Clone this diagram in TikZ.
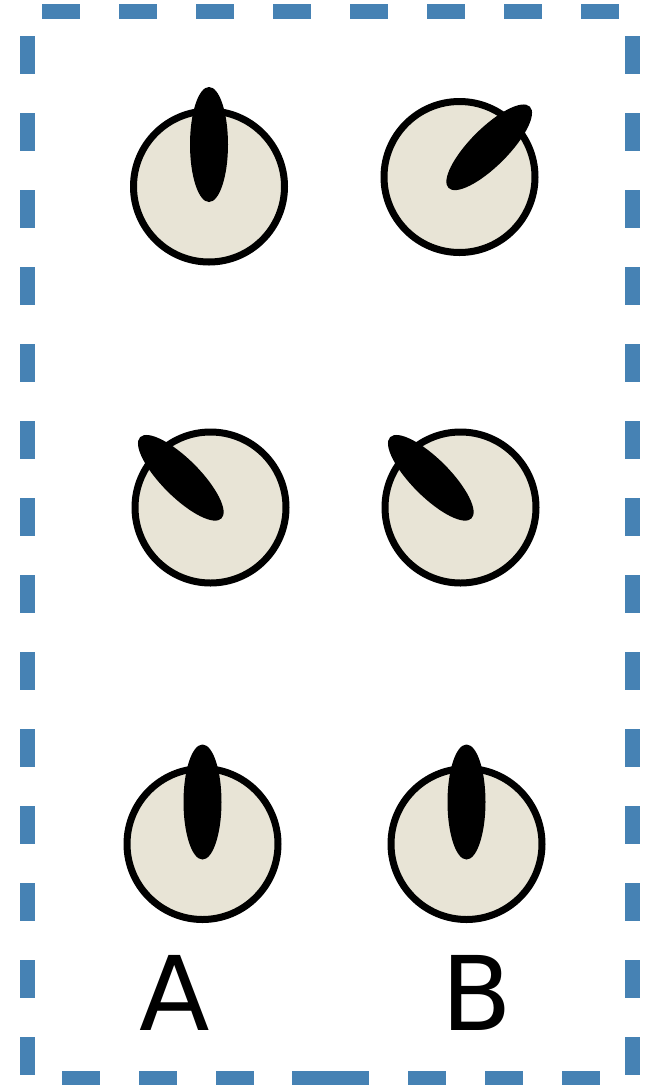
\documentclass[tikz,border=0pt]{standalone}
\usepackage{fontspec}
\newfontfamily\labelfont{DejaVu Sans}
\definecolor{frameblue}{RGB}{70,130,180}
\definecolor{knobfill}{RGB}{232,228,214}
\begin{document}
\begin{tikzpicture}[x=1pt,y=-1pt,
  frame/.style={draw=frameblue,line width=15pt,line cap=butt},
  knob/.style={circle,draw=black,fill=knobfill,line width=7pt,minimum size=151pt,inner sep=0pt},
  needle/.style={fill=black},
  lbl/.style={inner sep=0pt,anchor=base,font=\labelfont\fontsize{103}{103}\selectfont}]
\useasboundingbox (0,0) rectangle (645,1085);
% dashed frame
\foreach \k in {0,...,7}{
  \draw[frame] ({42+77*\k},11.5) -- ({80+77*\k},11.5);
}
\foreach \k in {0,...,13}{
  \draw[frame] (27.5,{36+77*\k}) -- (27.5,{74+77*\k});
  \draw[frame] (632.5,{36+77*\k}) -- (632.5,{74+77*\k});
}
\foreach \a/\b in {62/100,139/177,216/254,292/330,330.4/369,408/446,485/523,562/600}{
  \draw[frame] (\a,1078) -- (\b,1078);
}
% knobs
\node[knob] (k1) at (209,186.5) {};
\node[knob] (k2) at (459.5,177) {};
\node[knob] (k3) at (210.5,507.5) {};
\node[knob] (k4) at (460.5,507.5) {};
\node[knob] (k5) at (202.5,844) {};
\node[knob] (k6) at (466.5,844) {};
% needles
\fill[needle,shift={(k1.center)}] (0,-42) ellipse [x radius=19pt,y radius=57.5pt];
\fill[needle,shift={(k2.center)},rotate=-45] (0,-42) ellipse [x radius=19pt,y radius=57.5pt];
\fill[needle,shift={(k3.center)},rotate=45] (0,-42) ellipse [x radius=19pt,y radius=57.5pt];
\fill[needle,shift={(k4.center)},rotate=45] (0,-42) ellipse [x radius=19pt,y radius=57.5pt];
\fill[needle,shift={(k5.center)}] (0,-42) ellipse [x radius=19pt,y radius=57.5pt];
\fill[needle,shift={(k6.center)}] (0,-42) ellipse [x radius=19pt,y radius=57.5pt];
% labels
\node[lbl] (lA) at (175,1030) {A};
\node[lbl] (lB) at (477,1030) {B};
\end{tikzpicture}
\end{document}
